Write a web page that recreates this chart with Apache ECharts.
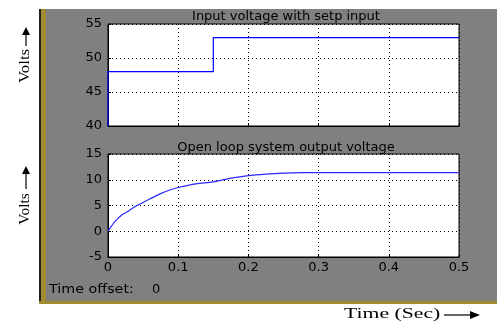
<!DOCTYPE html>
<html>
<head>
<meta charset="utf-8">
<script src="https://cdn.jsdelivr.net/npm/echarts@6/dist/echarts.min.js"></script>
<style>
  html, body { margin: 0; padding: 0; background: #fff; }
  #chart { width: 497px; height: 323px; }
</style>
</head>
<body>
<div id="chart"></div>
<script>
// input step (Volts vs time)
const inTime = [0, 0, 0.15, 0.15, 0.5];
const inVolts = [40, 48, 48, 53, 53];

// open loop output voltage
const outTime = [0, 0.005, 0.01, 0.02, 0.03, 0.04, 0.05, 0.06, 0.075, 0.09, 0.1, 0.125, 0.15, 0.175, 0.2, 0.225, 0.25, 0.275, 0.3, 0.4, 0.5];
const outVolts = [0, 1.0, 1.9, 3.2, 4.0, 4.9, 5.6, 6.3, 7.3, 8.1, 8.5, 9.2, 9.6, 10.3, 10.8, 11.1, 11.3, 11.4, 11.4, 11.4, 11.4];

const topTicks = [40, 45, 50, 55];
const bottomTicks = [-5, 0, 5, 10, 15];
const timeTicks = [0, 0.1, 0.2, 0.3, 0.4, 0.5];

const chart = echarts.init(document.getElementById('chart'));

const dotted = { color: '#000', width: 1, type: [1, 3] };
const labelFont = { color: '#000', fontSize: 13, fontFamily: 'DejaVu Sans' };
const titleFont = { color: '#000', fontSize: 13, fontWeight: 'normal', fontFamily: 'DejaVu Sans' };

function xAxisFor(gridIndex, showLabels) {
  return {
    type: 'value', gridIndex, min: 0, max: 0.5, interval: 0.1,
    axisLine: { show: true, onZero: false, lineStyle: { color: '#000' } },
    axisTick: { show: true, inside: true, length: 3, lineStyle: { color: '#000' } },
    splitLine: { show: true, lineStyle: dotted },
    axisLabel: Object.assign({ show: showLabels, margin: 4,
      formatter: v => (timeTicks.indexOf(+v.toFixed(1)) >= 0 ? String(+v.toFixed(1)) : '') }, labelFont),
  };
}

function yAxisFor(gridIndex, ticks) {
  return {
    type: 'value', gridIndex, min: ticks[0], max: ticks[ticks.length - 1], interval: 5,
    axisLine: { show: true, onZero: false, lineStyle: { color: '#000' } },
    axisTick: { show: true, inside: true, length: 3, lineStyle: { color: '#000' } },
    splitLine: { show: true, lineStyle: dotted },
    axisLabel: Object.assign({ margin: 6 }, labelFont),
  };
}

const option = {
  backgroundColor: '#fff',
  animation: false,
  title: [
    { text: 'Input voltage with setp input', left: 281, top: 5, textAlign: 'center', textStyle: titleFont },
    { text: 'Open loop system output voltage', left: 281, top: 136, textAlign: 'center', textStyle: titleFont },
  ],
  graphic: [
    // scope panel
    { type: 'rect', shape: { x: 39, y: 9, width: 458, height: 295 }, style: { fill: '#808080' }, z: -10 },
    { type: 'rect', shape: { x: 39, y: 9, width: 2, height: 295 }, style: { fill: '#202020' }, z: -9 },
    { type: 'rect', shape: { x: 41, y: 9, width: 5, height: 295 }, style: { fill: '#a38b32' }, z: -9 },
    { type: 'rect', shape: { x: 39, y: 301, width: 458, height: 3 }, style: { fill: '#a38b32' }, z: -9 },
    { type: 'text', x: 49, y: 290, scaleX: 1.1,
      style: { text: 'Time offset:', fill: '#000', font: '13px "DejaVu Sans"', verticalAlign: 'middle' } },
    { type: 'text', x: 152, y: 290,
      style: { text: '0', fill: '#000', font: '13px "DejaVu Sans"', verticalAlign: 'middle' } },
    // Volts labels (rotated)
    { type: 'text', x: 25, y: 66, rotation: Math.PI / 2, scaleX: 1.2,
      style: { text: 'Volts', fill: '#000', font: '14px "Liberation Serif"', align: 'center', verticalAlign: 'middle' } },
    { type: 'line', shape: { x1: 26, y1: 46, x2: 26, y2: 33 }, style: { stroke: '#000', lineWidth: 1.2 } },
    { type: 'polygon', shape: { points: [[22, 35], [30, 35], [26, 27]] }, style: { fill: '#000' } },
    { type: 'text', x: 25, y: 209, rotation: Math.PI / 2, scaleX: 1.1,
      style: { text: 'Volts', fill: '#000', font: '14px "Liberation Serif"', align: 'center', verticalAlign: 'middle' } },
    { type: 'line', shape: { x1: 26, y1: 189, x2: 26, y2: 172 }, style: { stroke: '#000', lineWidth: 1.2 } },
    { type: 'polygon', shape: { points: [[22, 174], [30, 174], [26, 166]] }, style: { fill: '#000' } },
    // Time label
    { type: 'text', x: 344, y: 314, scaleX: 1.55,
      style: { text: 'Time (Sec)', fill: '#000', font: '14px "Liberation Serif"', verticalAlign: 'middle' } },
    { type: 'line', shape: { x1: 444, y1: 315, x2: 472, y2: 315 }, style: { stroke: '#000', lineWidth: 1.2 } },
    { type: 'polygon', shape: { points: [[470, 311], [470, 319], [480, 315]] }, style: { fill: '#000' } },
  ],
  grid: [
    { left: 108, top: 24, width: 351, height: 102, show: true, backgroundColor: '#fff', borderColor: '#000', borderWidth: 1 },
    { left: 108, top: 154, width: 351, height: 103, show: true, backgroundColor: '#fff', borderColor: '#000', borderWidth: 1 },
  ],
  xAxis: [xAxisFor(0, false), xAxisFor(1, true)],
  yAxis: [yAxisFor(0, topTicks), yAxisFor(1, bottomTicks)],
  series: [
    {
      name: 'Input voltage', type: 'line', xAxisIndex: 0, yAxisIndex: 0,
      data: inTime.map((t, i) => [t, inVolts[i]]),
      showSymbol: false, lineStyle: { color: '#0000ff', width: 1.2 },
    },
    {
      name: 'Output voltage', type: 'line', xAxisIndex: 1, yAxisIndex: 1,
      data: outTime.map((t, i) => [t, outVolts[i]]),
      smooth: 0.3, showSymbol: false, lineStyle: { color: '#2a2aff', width: 1.2 },
    },
  ],
};

chart.setOption(option);
</script>
</body>
</html>
